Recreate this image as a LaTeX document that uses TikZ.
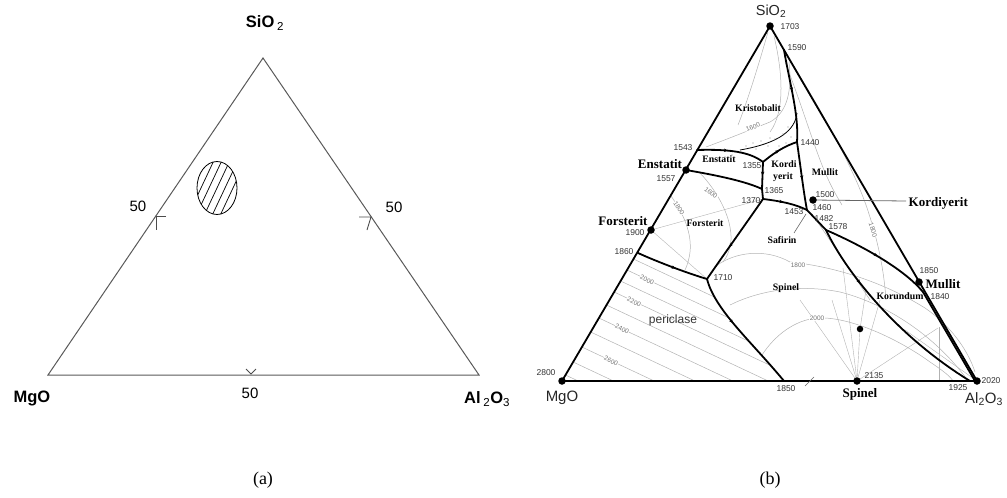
\documentclass[tikz,border=0pt]{standalone}
\usepackage{fontspec}
\setmainfont{Liberation Serif}
\setsansfont{Liberation Sans}
\usetikzlibrary{arrows.meta,decorations.markings,calc}
\tikzset{
  num/.style={font=\sffamily\fontsize{8.5}{9}\selectfont, text=black!80, inner sep=0.5pt},
  iso/.style={draw=black!30, line width=0.5pt},
  isolab/.style={font=\sffamily\fontsize{6.5}{7}\selectfont, text=black!55, fill=white, inner sep=0.4pt},
  bnd/.style={line width=1.8pt, line cap=round, line join=round},
  bigmin/.style={font=\bfseries\fontsize{13}{14}\selectfont, inner sep=0.5pt},
  regmin/.style={font=\bfseries\fontsize{9.8}{10}\selectfont, inner sep=0.5pt},
  dotpt/.style={circle, fill=black, inner sep=0pt, minimum size=7.5pt},
  triedge/.style={line width=1.8pt, line join=round},
  lefttri/.style={draw=black!65, line width=1pt},
  leftlbl/.style={font=\sffamily\bfseries\fontsize{16.5}{18}\selectfont, inner sep=0pt},
  fifty/.style={font=\sffamily\fontsize{15}{16}\selectfont, inner sep=0pt},
  caption/.style={font=\fontsize{18}{20}\selectfont, inner sep=0pt},
  midarr/.style={postaction={decorate,decoration={markings,mark=at position #1 with {\arrow{Stealth[length=3.8pt,width=3.4pt]}}}}}
}
\begin{document}
\begin{tikzpicture}[x=1pt,y=-1pt]
\useasboundingbox (0,0) rectangle (1007,498);

% ================= (a) =================
\coordinate (LS) at (263,58);
\coordinate (LM) at (48,375);
\coordinate (LA) at (479,375);
\draw[lefttri] (LS) -- (LM) -- (LA) -- cycle;
% ticks
\coordinate (tl) at (156,216);
\draw[black!70, line width=0.9pt] ($(tl)+(10,0)$) -- (tl) -- ($(tl)+(0,14)$);
\coordinate (tr) at (371,217);
\draw[black!70, line width=0.9pt] ($(tr)+(-12,0)$) -- (tr) -- ($(tr)+(-4,13)$);
\coordinate (tb) at (251,374);
\draw[black!70, line width=0.9pt] ($(tb)+(-5,-5)$) -- (tb) -- ($(tb)+(5,-5)$);
% hatched ellipse
\coordinate (ell) at (217,188);
\begin{scope}
  \clip (ell) ellipse [x radius=20, y radius=26.5];
  \foreach \i in {-64,-56,...,64} {
    \draw[line width=0.7pt] (217+\i-16,222) -- (217+\i+16,154);
  }
\end{scope}
\draw[line width=0.8pt] (ell) ellipse [x radius=20, y radius=26.5];
% labels
\node[leftlbl] (lsio) at (265,23) {SiO\,\textsubscript{\mdseries 2}};
\node[leftlbl] (lmgo) at (32,398) {MgO};
\node[leftlbl, anchor=west] (lalo) at (464,399) {Al\,\textsubscript{\mdseries 2}O\textsubscript{\mdseries 3}};
\node[fifty] (f1) at (138,206) {50};
\node[fifty] (f2) at (394,207) {50};
\node[fifty] (f3) at (250,393) {50};
\node[caption] (capa) at (263,480) {(a)};

% ================= (b) =================
\coordinate (S) at (770,26);
\coordinate (M) at (562,381);
\coordinate (A) at (977,381);
\coordinate (p1590) at (784,50);
\coordinate (p1440) at (797,142);
\coordinate (p1543) at (697,150);
\coordinate (p1355) at (763,162);
\coordinate (pEn) at (686,170);
\coordinate (p1365) at (762,189);
\coordinate (p1370) at (763,199);
\coordinate (pJ) at (807,210);
\coordinate (p1578) at (826,230);
\coordinate (p1840) at (923,292);
\coordinate (p1925) at (970,381);
\coordinate (p1860) at (638,253);
\coordinate (p1710) at (707,279);
\coordinate (p1850) at (784,381);
\coordinate (pFo) at (651,230);
\coordinate (pKo) at (813,200);
\coordinate (pMu) at (919,282);
\coordinate (pSp) at (857,381);
\coordinate (pIn) at (860,329);
\coordinate (kend) at (906,201);
\coordinate (saf) at (794,233);

% --- periclase parallel isotherms
\begin{scope}
  \clip (p1860) -- (M) -- (p1850) .. controls (750,340) and (715,310) .. (p1710)
        .. controls (690,274) and (660,263) .. (p1860) -- cycle;
  \foreach \yy in {259,270,281,292,305,318,332,347,362,375} {
    \draw[iso] ({562+(381-\yy)*0.586-6},{\yy-2.8}) -- ({562+(381-\yy)*0.586+300},{\yy+141});
  }
\end{scope}

% --- spinel region isotherms
\draw[iso] (716,266) .. controls (735,252) and (765,248) .. (790,262)
           .. controls (830,266) and (880,280) .. (925,308)
           .. controls (950,325) and (968,350) .. (975,372);
\draw[iso] (730,305) .. controls (760,290) and (800,284) .. (840,292)
           .. controls (880,302) and (930,330) .. (966,378);
\draw[iso] (762,355) .. controls (775,335) and (795,320) .. (817,318)
           .. controls (850,316) and (900,340) .. (930,362)
           .. controls (942,370) and (950,376) .. (953,381);
% radial lines from spinel
\draw[iso, line width=0.4pt] (pSp) -- (832,300);
\draw[iso, line width=0.4pt] (pSp) -- (843,268);
\draw[iso, line width=0.4pt] (pSp) -- (pIn) -- (866,290);
\draw[iso, line width=0.4pt] (pSp) -- (880,300);
\draw[iso, line width=0.4pt] (pSp) -- (938,328);
\draw[iso, line width=0.4pt] (pSp) -- (800,300);
\draw[iso, line width=0.4pt] (939,327) -- (939,380);
\draw[iso, line width=0.4pt] (A) -- (905,330);
% forsterit isotherms
\draw[iso] (671,196) .. controls (684,214) and (692,234) .. (690,252)
           .. controls (689,260) and (687,266) .. (685,270);
\draw[iso] (700,173) .. controls (718,192) and (732,218) .. (731,240)
           .. controls (730,250) and (727,257) .. (723,262);
\draw[iso, line width=0.4pt] (pFo) -- (p1370);
\draw[iso, line width=0.4pt] (pFo) -- (p1710);
% kristobalit isotherms
\draw[iso] (768,32) .. controls (760,60) and (748,100) .. (738,125);
\draw[iso] (774,36) .. controls (782,70) and (786,110) .. (770,132);
\draw[iso] (706,147) .. controls (725,140) and (750,130) .. (770,122)
           .. controls (788,112) and (792,90) .. (789,62);
% mullit isotherms
\draw[iso] (787,55) .. controls (815,100) and (850,160) .. (866,205)
           .. controls (878,240) and (884,270) .. (886,300);
\draw[iso] (785,62) .. controls (800,100) and (812,140) .. (822,165)
           .. controls (830,185) and (836,195) .. (842,205);
\draw[iso] (812,214) .. controls (830,240) and (850,270) .. (870,300);

% two-liquid boundary and dots
\draw[line width=0.8pt] (797,113) .. controls (795,130) and (780,143) .. (740,150);
\foreach \dx/\dy in {746/146,753/143,761/141,768/146,775/139,783/134,788/127,779/146,756/149,791/137,770/138,786/143,740/153,732/155,725/157} {
  \fill[black!45] (\dx,\dy) circle (0.6);
}

% --- triangle edges
\draw[triedge] (S) -- (M);
\draw[triedge] (S) -- (A);
\draw[triedge, line width=2.3pt] (M) -- (A);

% --- boundary curves
\draw[bnd, midarr=0.45] (p1590) .. controls (790,85) and (799,115) .. (p1440);
\draw[bnd, midarr=0.45] (p1543) .. controls (730,149) and (750,152) .. (p1355);
\draw[bnd, midarr=0.5] (p1355) .. controls (775,152) and (785,146) .. (p1440);
\draw[bnd] (pEn) .. controls (715,175) and (745,181) .. (p1365);
\draw[bnd, midarr=0.5] (p1355) -- (p1365);
\draw[bnd] (p1365) -- (p1370);
\draw[bnd, midarr=0.45] (p1370) .. controls (780,201) and (795,204) .. (pJ);
\draw[bnd, midarr=0.55] (p1440) .. controls (801,170) and (804,195) .. (pJ);
\draw[bnd] (pJ) -- (p1578);
\draw[bnd, midarr=0.5] (p1578) .. controls (865,247) and (905,270) .. (p1840);
\draw[bnd] (p1840) -- (975,381);
\draw[bnd, midarr=0.3] (p1578) .. controls (845,270) and (895,335) .. (p1925);
\draw[bnd, midarr=0.6] (p1370) .. controls (745,225) and (720,260) .. (p1710);
\draw[bnd, midarr=0.55] (p1860) .. controls (660,263) and (690,274) .. (p1710);
\draw[bnd, midarr=0.4] (p1710) .. controls (715,310) and (750,340) .. (p1850);

% pointer lines
\draw[black!60, line width=0.8pt] (pKo) -- (kend);
\draw[black!60, line width=0.6pt] (806,214) -- (saf);
\draw[black!60, line width=0.6pt] (805,386) -- (814,377);

% --- points
\node[dotpt] (nS) at (S) {};
\node[dotpt] (nM) at (M) {};
\node[dotpt] (nA) at (A) {};
\node[dotpt] (nEn) at (pEn) {};
\node[dotpt] (nFo) at (pFo) {};
\node[dotpt] (nKo) at (pKo) {};
\node[dotpt] (nMu) at (pMu) {};
\node[dotpt] (nSp) at (pSp) {};
\node[dotpt, minimum size=6.5pt] (nIn) at (pIn) {};

% --- iso labels
\node[isolab, rotate=20] (i1) at (753,127) {1600};
\node[isolab, rotate=-38] (i2) at (711,193) {1600};
\node[isolab, rotate=-55] (i3) at (679,208) {1800};
\node[isolab, rotate=-72] (i4) at (873,230) {1800};
\node[isolab] (i5) at (798,265) {1800};
\node[isolab] (i6) at (817,318) {2000};
\node[isolab, rotate=-25] (i7) at (647,280) {2000};
\node[isolab, rotate=-25] (i8) at (634,302) {2200};
\node[isolab, rotate=-25] (i9) at (622,329) {2400};
\node[isolab, rotate=-25] (i10) at (611,361) {2600};

% --- numbers
\node[num] (t1703) at (790,27) {1703};
\node[num] (t1590) at (797,48) {1590};
\node[num] (t1440) at (810,143) {1440};
\node[num] (t1543) at (683,148) {1543};
\node[num] (t1355) at (752,166) {1355};
\node[num] (t1557) at (666,179) {1557};
\node[num] (t1365) at (774,191) {1365};
\node[num] (t1370) at (751,201) {1370};
\node[num] (t1500) at (825,195) {1500};
\node[num] (t1460) at (822,208) {1460};
\node[num] (t1453) at (794,212) {1453};
\node[num] (t1482) at (824,219) {1482};
\node[num] (t1578) at (838,227) {1578};
\node[num] (t1900) at (635,233) {1900};
\node[num] (t1860) at (624,252) {1860};
\node[num] (t1850a) at (929,271) {1850};
\node[num] (t1710) at (723,278) {1710};
\node[num] (t1840) at (940,297) {1840};
\node[num] (t2800) at (546,373) {2800};
\node[num] (t2135) at (874,376) {2135};
\node[num] (t2020) at (991,381) {2020};
\node[num] (t1850b) at (786,389) {1850};
\node[num] (t1925) at (958,388) {1925};

% --- mineral labels
\node[regmin] (rKr) at (758,108) {Kristobalit};
\node[regmin] (rEn) at (719,159) {Enstatit};
\node[regmin] (rKo1) at (784,164) {Kordi};
\node[regmin] (rKo2) at (783,177) {yerit};
\node[regmin] (rMu) at (825,172) {Mullit};
\node[regmin] (rFo) at (705,223) {Forsterit};
\node[regmin] (rSa) at (782,240) {Safirin};
\node[regmin] (rSp) at (786,288) {Spinel};
\node[regmin] (rKor) at (900,296) {Korundum};
\node[bigmin] (bEn) at (660,164) {Enstatit};
\node[bigmin] (bFo) at (623,221) {Forsterit};
\node[bigmin, anchor=west] (bKo) at (908,203) {Kordiyerit};
\node[bigmin, anchor=west] (bMu) at (925,284) {Mullit};
\node[bigmin] (bSp) at (860,394) {Spinel};
\node[font=\sffamily\fontsize{12}{13}\selectfont, text=black!80] (rPe) at (673,320) {periclase};

% --- oxide labels
\node[font=\sffamily\fontsize{14.5}{15}\selectfont, text=black!85, inner sep=0pt] (rsio) at (771,11) {SiO\textsubscript{2}};
\node[font=\sffamily\fontsize{15}{16}\selectfont, text=black!85, inner sep=0pt] (rmgo) at (562,398) {MgO};
\node[font=\sffamily\fontsize{15}{16}\selectfont, text=black!85, inner sep=0pt] (ralo) at (984,399) {Al\textsubscript{2}O\textsubscript{3}};
\node[caption] (capb) at (770,480) {(b)};
\end{tikzpicture}
\end{document}
